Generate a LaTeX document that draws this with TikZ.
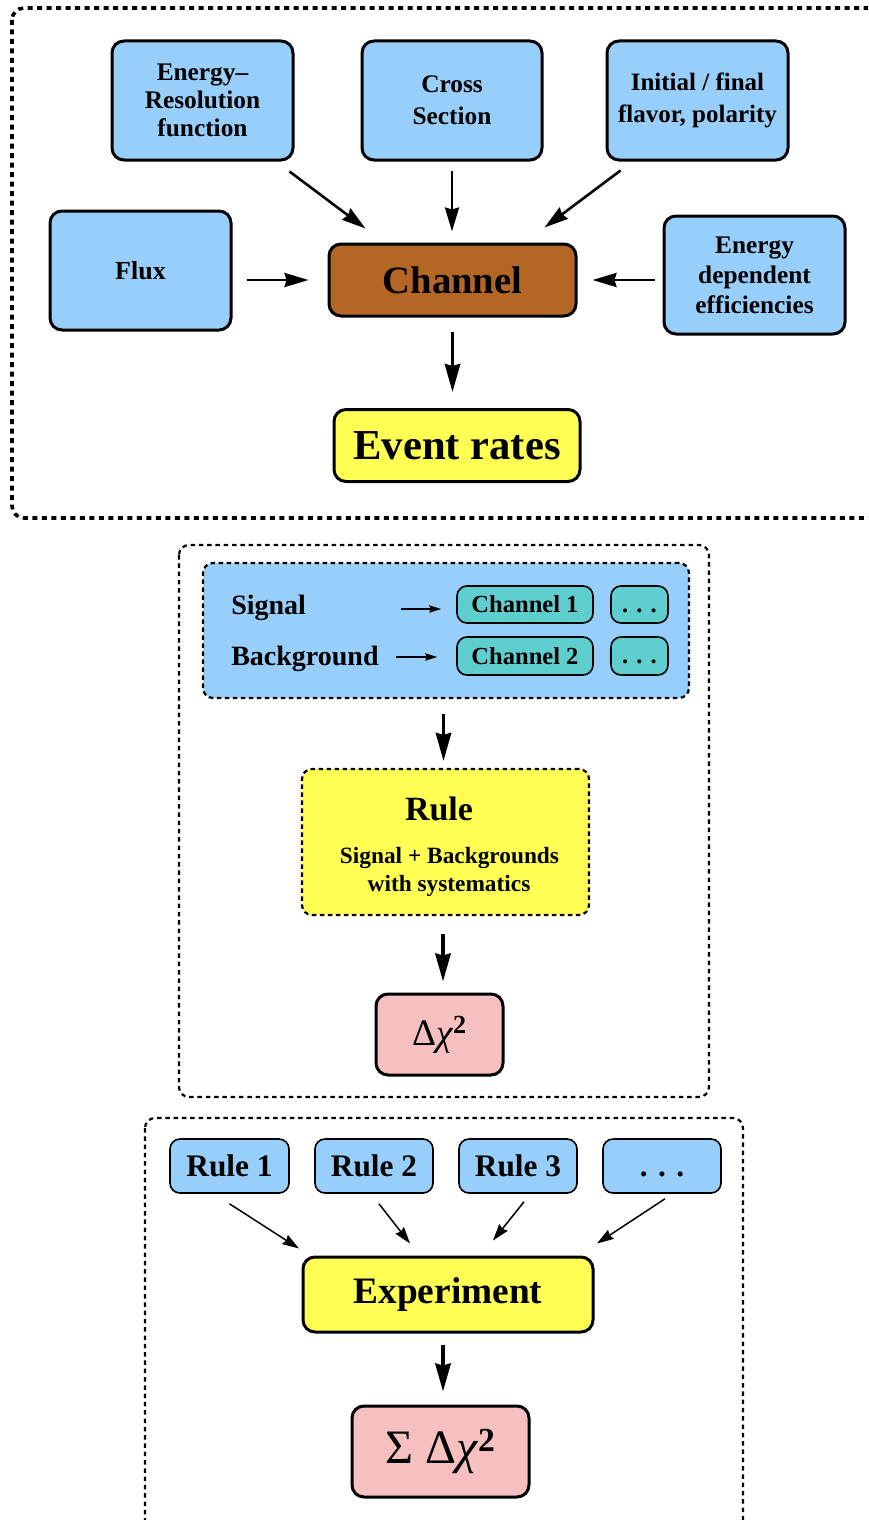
\documentclass[tikz,border=0pt]{standalone}
\usepackage{fontspec}
\setmainfont{Liberation Serif}
\usetikzlibrary{arrows.meta,calc}
\newlength\pxu
\setlength\pxu{0.75pt}
\definecolor{boxblue}{RGB}{152,206,250}
\definecolor{chanbrown}{RGB}{180,102,36}
\definecolor{rateyellow}{RGB}{255,255,84}
\definecolor{chanteal}{RGB}{94,206,206}
\definecolor{chipink}{RGB}{246,192,192}
\newcommand\fsz[2]{\fontsize{#1}{#2}\selectfont}
\newcommand\dchisq{Δ{\itshape χ\/}\textsuperscript{\bfseries 2}}
\begin{document}
\begin{tikzpicture}[x=0.75pt,y=-0.75pt,
  solidbox/.style={draw=black,line width=3\pxu,rounded corners=12\pxu,inner sep=0pt,align=center},
  thinbox/.style={draw=black,line width=1.6\pxu,rounded corners=10\pxu,inner sep=0pt,align=center},
  dashbox/.style={draw=black,line width=2.2\pxu,dash pattern=on 4.5\pxu off 3.5\pxu,rounded corners=10\pxu,inner sep=0pt},
  frame/.style={draw=black,line width=2.2\pxu,dash pattern=on 4.5\pxu off 3.8\pxu,rounded corners=10\pxu},
  heavyframe/.style={draw=black,line width=3.6\pxu,dash pattern=on 5\pxu off 4.5\pxu,rounded corners=12\pxu},
  heavyarrow/.style={line width=2.6\pxu,-{Stealth[length=18pt,width=10.5pt,inset=1.5pt]}},
  boldarrow/.style={line width=3.4\pxu,-{Stealth[length=21pt,width=11.5pt,inset=1.5pt]}},
  lightarrow/.style={line width=1.5\pxu,-{Stealth[length=12.5pt,width=8pt,inset=1.2pt]}},
  tinyarrow/.style={line width=1.5\pxu,-{Stealth[length=9pt,width=5.5pt,inset=1.2pt]}},
  label/.style={inner sep=0pt,font=\bfseries}
]
\useasboundingbox (0,0) rectangle (868,1520);
\clip (0,0) rectangle (868,1520);
\fill[white] (0,0) rectangle (868,1520);

% ---------- channel definition ----------
\draw[heavyframe] (12,8) rectangle (880,518);

\node[solidbox,fill=boxblue,minimum width=181\pxu,minimum height=119\pxu,font=\bfseries\fsz{19}{21}] (enres) at (202.5,100.5) {Energy–\\Resolution\\function};
\node[solidbox,fill=boxblue,minimum width=180\pxu,minimum height=119\pxu,font=\bfseries\fsz{19}{24}] (cross) at (452,100.5) {Cross\\Section};
\node[solidbox,fill=boxblue,minimum width=181\pxu,minimum height=119\pxu,font=\bfseries\fsz{18.75}{24}] (flavor) at (697.5,100.5) {Initial / final\\flavor, polarity};
\node[solidbox,fill=boxblue,minimum width=181\pxu,minimum height=119\pxu,font=\bfseries\fsz{19.5}{21}] (flux) at (140.5,270.5) {Flux};
\node[solidbox,fill=boxblue,minimum width=181\pxu,minimum height=118\pxu,font=\bfseries\fsz{19}{22.5}] (eff) at (754.5,275) {Energy\\dependent\\efficiencies};
\node[solidbox,fill=chanbrown,minimum width=247\pxu,minimum height=72\pxu,font=\bfseries\fsz{29}{32}] (channel) at (452.5,280) {Channel};
\node[solidbox,fill=rateyellow,minimum width=246\pxu,minimum height=72\pxu,font=\bfseries\fsz{32}{35}] (rates) at (457,445.5) {Event rates};

\draw[heavyarrow] ([xshift=-5\pxu,yshift=-10\pxu]enres.south east) -- ([xshift=38\pxu,yshift=14\pxu]channel.north west);
\draw[heavyarrow,shorten <=9\pxu,shorten >=11\pxu] (cross.south) -- (cross.south |- channel.north);
\draw[heavyarrow] ([xshift=15\pxu,yshift=-9\pxu]flavor.south west) -- ([xshift=-33\pxu,yshift=15\pxu]channel.north east);
\draw[heavyarrow,shorten <=14\pxu,shorten >=19\pxu] (flux.east |- channel.west) -- (channel.west);
\draw[heavyarrow,shorten <=8\pxu,shorten >=15\pxu] (eff.west |- channel.east) -- (channel.east);
\draw[boldarrow,shorten <=14\pxu,shorten >=16\pxu] (channel.south) -- (channel.south |- rates.north);

% ---------- rule ----------
\draw[frame] (179,545) rectangle (709,1097);

\node[dashbox,fill=boxblue,minimum width=486\pxu,minimum height=135\pxu] (sources) at (446,630.5) {};
\node[label,anchor=base west,font=\bfseries\fsz{21}{24}] (sig) at (231,614) {Signal};
\node[label,anchor=base west,font=\bfseries\fsz{21}{24}] (bkg) at (231,665) {Background};
\node[thinbox,fill=chanteal,minimum width=136\pxu,minimum height=37\pxu,font=\bfseries\fsz{18.4}{20}] (ch1) at (525,604.5) {Channel 1};
\node[thinbox,fill=chanteal,minimum width=136\pxu,minimum height=38\pxu,font=\bfseries\fsz{18.4}{20}] (ch2) at (525,656) {Channel 2};
\node[thinbox,fill=chanteal,minimum width=57\pxu,minimum height=37\pxu,font=\bfseries\fsz{18.4}{20}] (more1) at (639.5,604.5) {\vphantom{C}. . .};
\node[thinbox,fill=chanteal,minimum width=57\pxu,minimum height=38\pxu,font=\bfseries\fsz{18.4}{20}] (more2) at (639.5,656) {\vphantom{C}. . .};
\coordinate (sigtail) at (401,609);
\coordinate (bkgtail) at (396,657);
\draw[tinyarrow,shorten >=15\pxu] (sigtail) -- (ch1.west |- sigtail);
\draw[tinyarrow,shorten >=19\pxu] (bkgtail) -- (ch2.west |- bkgtail);

\node[dashbox,fill=rateyellow,minimum width=287\pxu,minimum height=146\pxu] (rule) at (445.5,842) {};
\node[label,anchor=base,font=\bfseries\fsz{25.5}{28}] (ruletitle) at (439,820) {Rule};
\node[label,anchor=base,font=\bfseries\fsz{17.5}{20}] (ruleline1) at (449.5,863) {Signal + Backgrounds};
\node[label,anchor=base,font=\bfseries\fsz{17.5}{20}] (ruleline2) at (449,891) {with systematics};

\node[solidbox,fill=chipink,minimum width=127\pxu,minimum height=81\pxu,font=\fsz{28}{30}] (dchi) at (439.5,1034.5) {\dchisq};

\coordinate (srcfoot) at ([xshift=-2.5\pxu]sources.south);
\draw[boldarrow,shorten <=15\pxu,shorten >=7\pxu] (srcfoot) -- (srcfoot |- rule.north);
\draw[boldarrow,shorten <=18\pxu,shorten >=11\pxu] ([xshift=-2.5\pxu]rule.south) -- ([xshift=-2.5\pxu]rule.south |- dchi.north);

% ---------- experiment ----------
\draw[frame] (145,1118) rectangle (743,1540);

\node[thinbox,fill=boxblue,minimum width=119\pxu,minimum height=54\pxu,font=\bfseries\fsz{23.5}{26}] (rule1) at (229.5,1166) {Rule 1};
\node[thinbox,fill=boxblue,minimum width=118\pxu,minimum height=54\pxu,font=\bfseries\fsz{23.5}{26}] (rule2) at (374,1166) {Rule 2};
\node[thinbox,fill=boxblue,minimum width=118\pxu,minimum height=54\pxu,font=\bfseries\fsz{23.5}{26}] (rule3) at (518,1166) {Rule 3};
\node[thinbox,fill=boxblue,minimum width=118\pxu,minimum height=54\pxu,font=\bfseries\fsz{23.5}{26}] (rulemore) at (662,1166) {\vphantom{R}. . .};

\node[solidbox,fill=rateyellow,minimum width=290\pxu,minimum height=75\pxu,font=\bfseries\fsz{28}{30}] (exp) at (448,1294.5) {Experiment};
\node[solidbox,fill=chipink,minimum width=177\pxu,minimum height=91\pxu,font=\fsz{36}{38}] (total) at (440.5,1451.5) {Σ \dchisq};

\draw[lightarrow] ([yshift=-10\pxu]rule1.south) -- ([xshift=-149\pxu,yshift=7\pxu]exp.north);
\draw[lightarrow] ([xshift=5\pxu,yshift=-10\pxu]rule2.south) -- ([xshift=-38\pxu,yshift=12\pxu]exp.north);
\draw[lightarrow] ([xshift=6\pxu,yshift=-8\pxu]rule3.south) -- ([xshift=45\pxu,yshift=15\pxu]exp.north);
\draw[lightarrow] ([xshift=3\pxu,yshift=-5\pxu]rulemore.south) -- ([xshift=149\pxu,yshift=12\pxu]exp.north);
\draw[boldarrow,shorten <=11\pxu,shorten >=13\pxu] ([xshift=-5\pxu]exp.south) -- ([xshift=-5\pxu]exp.south |- total.north);
\end{tikzpicture}
\end{document}
